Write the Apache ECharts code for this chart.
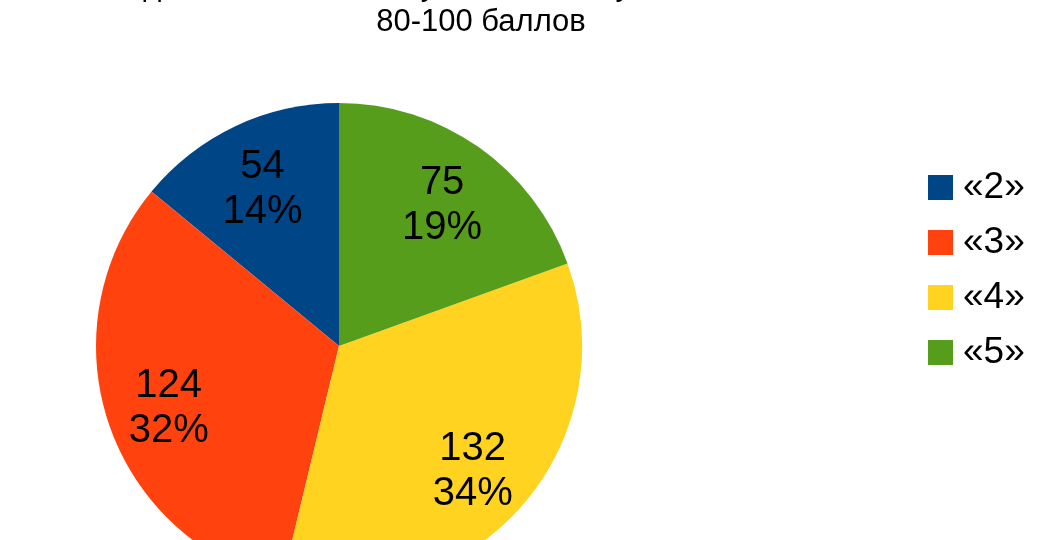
<!DOCTYPE html>
<html>
<head>
<meta charset="utf-8">
<script src="https://cdn.jsdelivr.net/npm/echarts@6/dist/echarts.min.js"></script>
<style>
  html, body { margin: 0; padding: 0; background: #fff; }
  #main { width: 1045px; height: 540px; }
</style>
</head>
<body>
<div id="main"></div>
<script>
var grades = ['«2»', '«3»', '«4»', '«5»'];
var counts = [54, 124, 132, 75];
var colors = ['#004586', '#ff420e', '#ffd320', '#579d1c'];
var titleLines = ['Годовые отметки выпускников, получивших на ЕГЭ', '80-100 баллов'];

var total = counts.reduce(function (a, b) { return a + b; }, 0);

var pieData = grades.map(function (g, i) {
    return { name: g, value: counts[i], itemStyle: { color: colors[i] } };
});
// same slices, transparent, only to carry the labels further out
var labelData = grades.map(function (g, i) {
    return { name: g, value: counts[i], itemStyle: { color: 'rgba(0,0,0,0)' } };
});

var myChart = echarts.init(document.getElementById('main'));
var option = {
    animation: false,
    textStyle: { fontFamily: 'Liberation Sans' },
    title: {
        text: titleLines.join('\n'),
        left: 476,
        textAlign: 'center',
        top: -37,
        textStyle: {
            fontFamily: 'Liberation Sans',
            fontWeight: 'normal',
            fontSize: 31,
            lineHeight: 36,
            color: '#000'
        }
    },
    legend: {
        orient: 'vertical',
        left: 928,
        top: 169,
        padding: 0,
        icon: 'rect',
        itemWidth: 25,
        itemHeight: 25,
        itemGap: 18,
        data: grades,
        textStyle: {
            fontFamily: 'Liberation Sans',
            fontSize: 37,
            color: '#000',
            padding: [0, 0, 0, 5]
        }
    },
    series: [
        {
            name: 'pie',
            type: 'pie',
            center: [339, 346],
            radius: 243,
            startAngle: 90,
            clockwise: false,
            silent: true,
            label: { show: false },
            labelLine: { show: false },
            data: pieData
        },
        {
            name: 'labels',
            type: 'pie',
            center: [339, 346],
            radius: [110, 243],
            startAngle: 90,
            clockwise: false,
            silent: true,
            legendHoverLink: false,
            label: {
                show: true,
                position: 'inside',
                offset: [0, 6],
                fontFamily: 'Liberation Sans',
                fontSize: 40,
                lineHeight: 45,
                color: '#000',
                formatter: function (p) {
                    return p.value + '\n' + Math.round(p.value / total * 100) + '%';
                }
            },
            labelLine: { show: false },
            data: labelData
        }
    ]
};
myChart.setOption(option);
</script>
</body>
</html>
